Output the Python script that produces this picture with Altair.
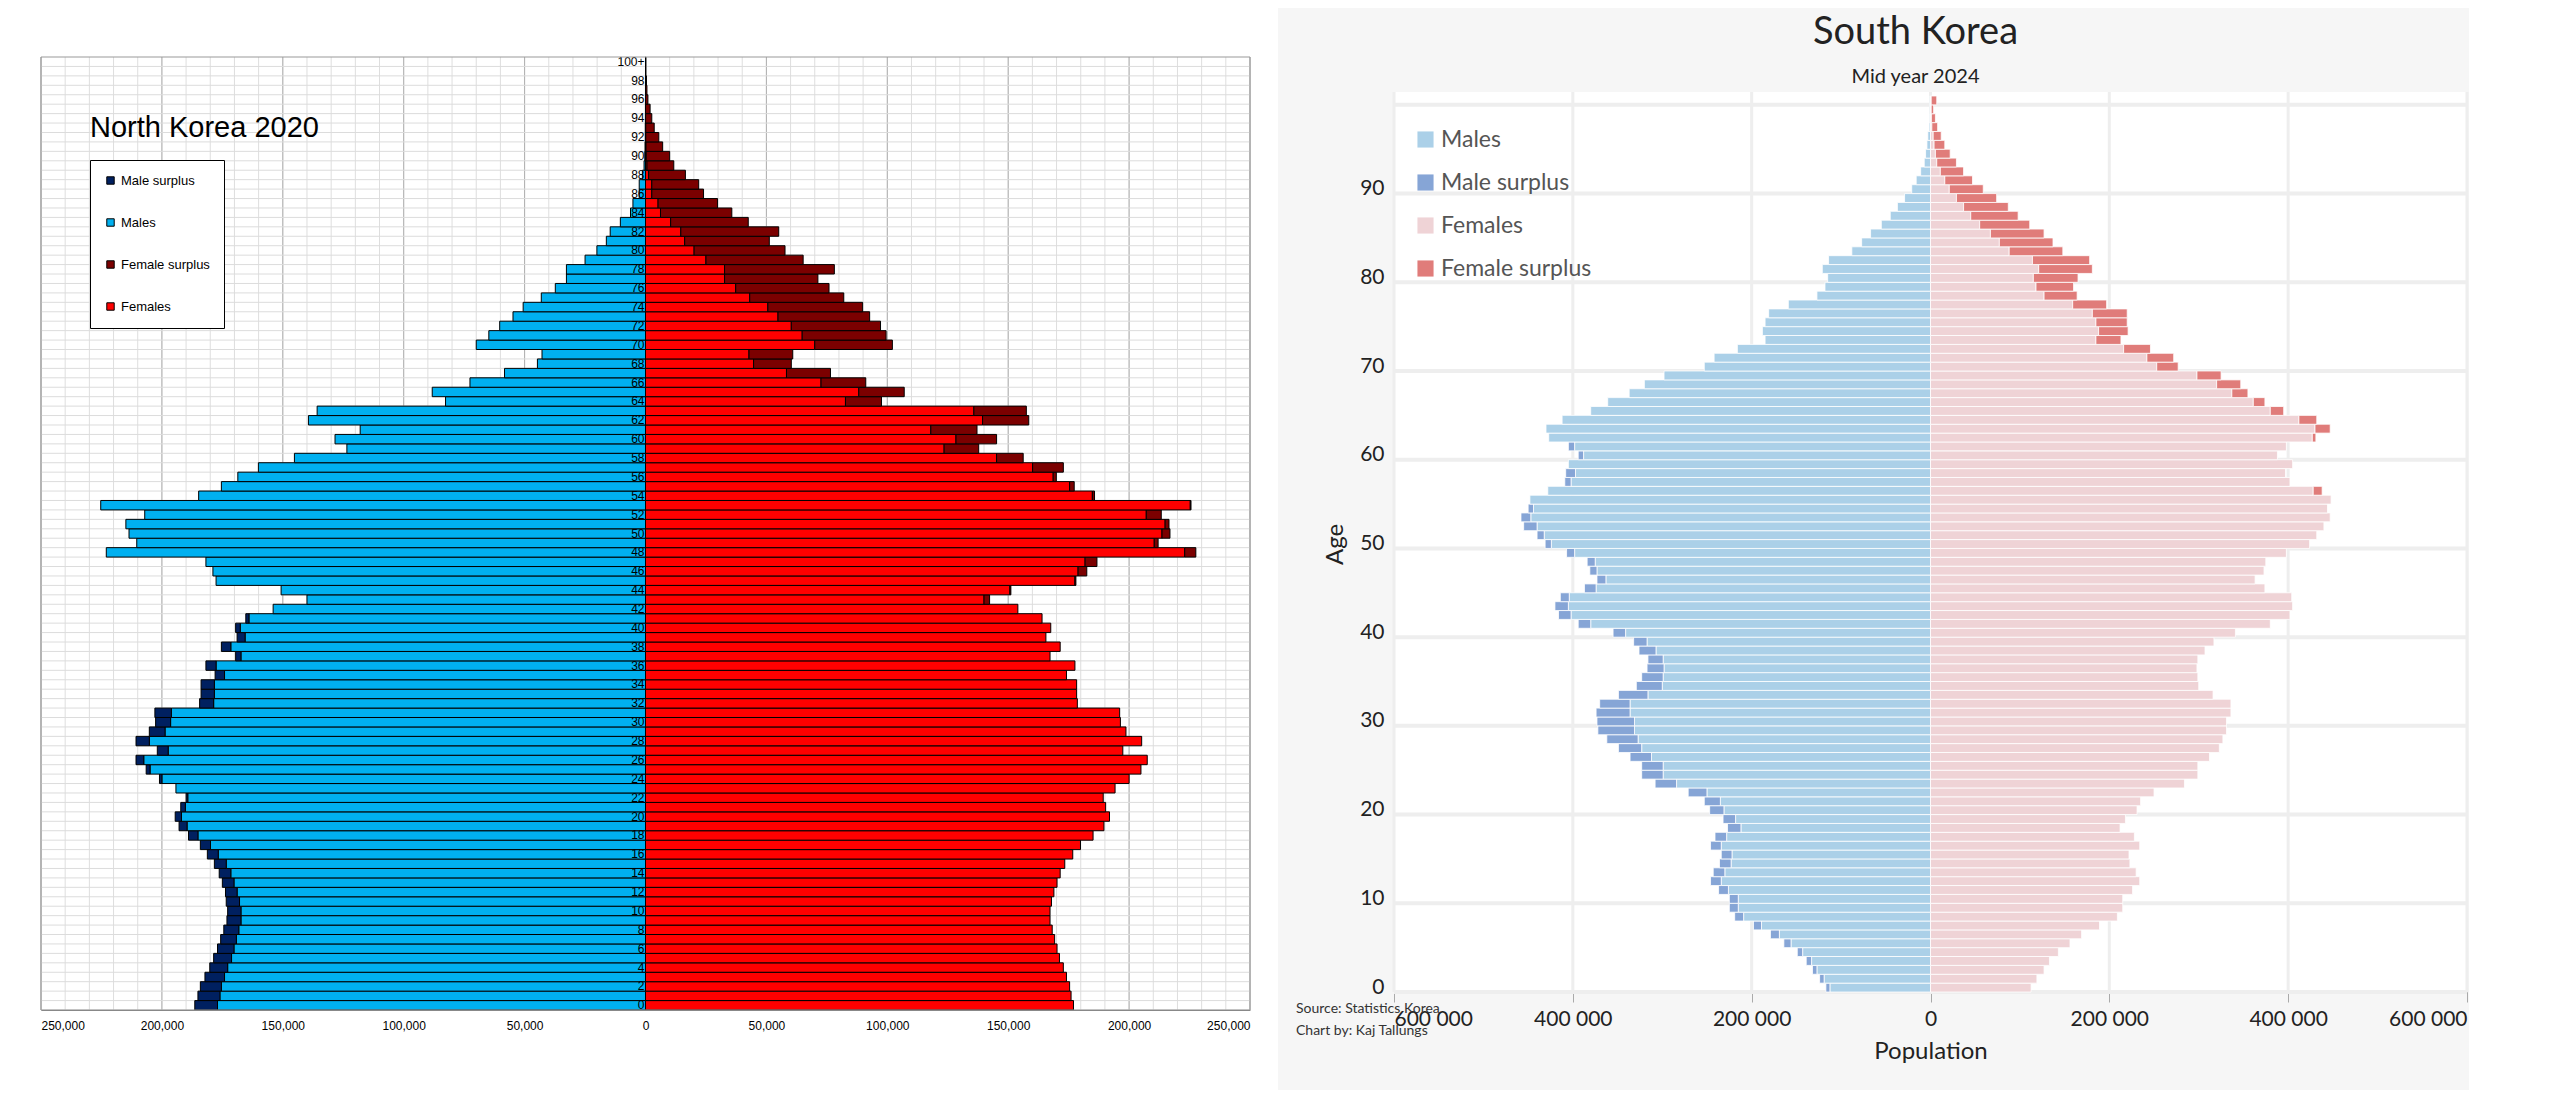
import altair as alt
import pandas as pd

# ---------------- data (thousands) ----------------
AGES = [str(i) for i in range(100)] + ["100+"]

NK_MALES = [186.4,185.1,184.1,182.2,180.2,178.6,177.0,175.7,174.4,173.1,
            172.8,173.4,173.7,175.0,176.3,178.3,181.2,184.1,189.0,192.9,
            194.5,192.2,190.0,194.2,201.0,206.5,210.7,201.9,210.7,205.2,
            202.6,202.9,184.4,183.8,183.8,178.0,181.8,169.5,175.4,168.9,
            169.5,165.3,154.0,140.0,150.7,177.6,178.9,181.8,223.0,210.4,
            213.6,214.9,207.1,225.3,184.8,175.4,168.6,160.1,145.2,123.5,
            128.4,118.0,139.4,135.8,82.7,88.2,72.6,58.3,44.7,42.8,
            70.0,64.8,60.3,54.8,50.6,43.1,37.3,32.7,32.7,25.0,
            20.1,16.2,14.6,10.4,6.2,5.2,2.6,2.6,1.3,0.6,
            0.3,0.2,0.1,0.1,0.05,0.03,0.02,0.01,0.01,0.0,0.0]
NK_FEMALES = [177.0,176.0,175.4,174.1,172.8,171.2,170.2,169.2,168.2,167.3,
              167.3,167.9,168.9,170.2,171.5,173.4,176.7,179.9,185.1,189.6,
              191.9,190.3,189.3,194.2,200.0,204.9,207.5,197.4,205.2,198.7,
              196.4,196.1,178.6,178.3,178.3,174.1,177.6,167.3,171.5,165.6,
              167.6,164.0,154.0,142.3,151.1,178.0,182.5,186.7,227.6,212.0,
              216.9,216.5,213.3,225.6,185.7,177.3,169.9,172.8,156.2,137.8,
              145.2,137.1,158.5,157.5,97.6,107.0,91.1,76.5,60.3,60.9,
              102.1,99.5,97.2,92.7,89.8,82.0,75.9,71.3,78.1,65.2,
              57.7,51.2,55.1,42.5,35.7,29.8,24.0,22.0,16.5,11.7,
              10.0,7.1,5.5,3.6,2.6,1.9,1.0,0.6,0.4,0.2,0.2]

SK_MALES = [117,124,132,139,149,164,179,198,219,225,
            225,237,246,243,236,234,246,241,227,232,
            247,253,271,308,323,323,336,349,362,372,
            373,374,370,349,329,323,317,316,326,332,
            355,394,416,420,414,387,373,381,384,407,
            431,440,455,458,450,448,428,409,408,405,
            394,405,427,430,412,380,361,337,320,298,
            253,242,216,185,188,185,181,159,127,118,
            115,121,114,88,77,67,55,45,37,29,
            21,16,11,7,5.5,4,3,1.5,1,0.8,0.8]
SK_FEMALES = [112.5,119,127,133,143,156,169,189,209,215,
              215,226,234,230,223,222,234,228,212,218,
              231,235,250,284,299,299,312,323,327,331,
              331,336,336,316,300,299,298,299,307,317,
              341,380,402,405,404,374,363,373,375,398,
              424,432,440,447,444,448,438,402,397,405,
              388,398,431,447,432,395,374,355,347,325,
              277,272,246,213,221,220,220,197,164,160,
              165,181,178,148,137,127,111,98,87,74,
              59,47,37,29,22,16,12,8,5.5,3.5,7]

NK_SEGS = ["Male surplus", "Males", "Female surplus", "Females"]
NK_COLORS = ["#002060", "#00b0f0", "#7b0000", "#ff0000"]
SK_SEGS = ["Males", "Male surplus", "Females", "Female surplus"]
SK_COLORS = ["#abd0e8", "#86a5d6", "#efd3d6", "#e07c7a"]

NK_TITLE = ["North Korea 2020"]
SK_TITLE = ["South Korea"]
SK_SUBTITLE = ["Mid year 2024"]
SOURCE = ["Source: Statistics Korea", "Chart by: Kaj Tallungs"]

NK_TICKS = list(range(-250000, 250001, 50000))
NK_MINOR = list(range(-250000, 250001, 10000))
SK_TICKS = list(range(-600000, 600001, 200000))
SK_AGE_LABELS = [str(i) for i in range(0, 100, 10)] + ["100+"]

SORT = list(reversed(AGES))


def segments(M, F):
    rows = []
    for lab, m, f in zip(AGES, M, F):
        m *= 1000
        f *= 1000
        lo = min(m, f)
        rows.append(dict(label=lab, seg="Males", x=-lo, x2=0))
        if m > f:
            rows.append(dict(label=lab, seg="Male surplus", x=-m, x2=-lo))
        rows.append(dict(label=lab, seg="Females", x=0, x2=lo))
        if f > m:
            rows.append(dict(label=lab, seg="Female surplus", x=lo, x2=f))
    return pd.DataFrame(rows)


# ---------------- North Korea ----------------
LW, LH = 1209, 953
nk = segments(NK_MALES, NK_FEMALES)
ly = alt.Y("label:O", sort=SORT, scale=alt.Scale(paddingInner=0, paddingOuter=0), axis=None)
lxs = alt.Scale(domain=[-250000, 250000], nice=False, zero=False)
LX_AXIS = alt.Axis(values=NK_TICKS, labelExpr="format(abs(datum.value), ',')", grid=False,
                   ticks=False, domainColor="#888", labelFont="Liberation Sans",
                   labelFontSize=12, labelColor="black", labelPadding=10, zindex=1, title=None)

one = pd.DataFrame({"t": NK_TITLE})
bg = alt.Chart(one).mark_rect(color="white").encode(
    x=alt.value(-33), x2=alt.value(LW + 28), y=alt.value(-49), y2=alt.value(LH + 80))
vminor = alt.Chart(pd.DataFrame({"v": NK_MINOR})).mark_rule(color="#dedede", strokeWidth=1).encode(
    x=alt.X("v:Q", scale=lxs, axis=LX_AXIS))
vmajor = alt.Chart(pd.DataFrame({"v": NK_TICKS})).mark_rule(color="#b0b0b0", strokeWidth=1).encode(
    x=alt.X("v:Q", scale=lxs, axis=LX_AXIS))
hgrid = alt.Chart(pd.DataFrame({"label": AGES})).mark_rule(
    color="#dcdcdc", strokeWidth=1, yOffset=LH / 101 / 2).encode(y=ly)
bars_nk = alt.Chart(nk).mark_bar(stroke="black", strokeWidth=1).encode(
    x=alt.X("x:Q", scale=lxs, axis=LX_AXIS),
    x2="x2:Q",
    y=ly,
    color=alt.Color("seg:N", scale=alt.Scale(domain=NK_SEGS, range=NK_COLORS),
                    legend=alt.Legend(title=None, orient="none", legendX=49, legendY=103,
                                      strokeColor="black", fillColor="white", padding=14,
                                      rowPadding=28, symbolType="square", symbolSize=55,
                                      symbolStrokeColor="black", symbolStrokeWidth=1,
                                      labelFont="Liberation Sans", labelFontSize=13,
                                      labelColor="black", labelLimit=250, zindex=1)),
)
even = pd.DataFrame({"label": [a for i, a in enumerate(AGES) if i % 2 == 0], "zero": 0})
agetext = alt.Chart(even).mark_text(align="right", dx=-1, baseline="middle", fontSize=12,
                                    font="Liberation Sans", color="black").encode(
    x=alt.X("zero:Q", scale=lxs, axis=LX_AXIS), y=ly, text="label:N")
title_nk = alt.Chart(one).mark_text(align="left", baseline="alphabetic", fontSize=29,
                                    font="Liberation Sans", color="black").encode(
    x=alt.value(49), y=alt.value(80), text="t:N")
border = alt.Chart(one).mark_rect(fillOpacity=0, stroke="#999", strokeWidth=1).encode(
    x=alt.value(0), x2=alt.value(LW), y=alt.value(0), y2=alt.value(LH))

left = alt.layer(bg, vminor, vmajor, hgrid, bars_nk, agetext, title_nk, border).properties(
    width=LW, height=LH)

# ---------------- South Korea ----------------
RW, RH, RTOP = 1073, 935, 39
sk = segments(SK_MALES, SK_FEMALES)
rxs = alt.Scale(domain=[-600000, 600000], nice=False, zero=False)
RX_AXIS = alt.Axis(values=SK_TICKS, labelExpr="replace(format(abs(datum.value), ','), ',', ' ')",
                   grid=False, ticks=True, tickSize=10, tickColor="#aaa", domainColor="#aaa",
                   domainWidth=2, labelFont="Lato", labelFontSize=21, labelColor="#222",
                   labelPadding=6, titleFont="Lato", titleFontSize=24, titleFontWeight="normal",
                   titleColor="#222", titlePadding=10, title="Population")
ry = alt.Y("label:O", sort=SORT,
           scale=alt.Scale(paddingInner=0, paddingOuter=0, range=[RTOP, RH]),
           title="Age",
           axis=alt.Axis(values=SK_AGE_LABELS, grid=False, ticks=False, domain=False,
                         labelFont="Lato", labelFontSize=21, labelColor="#222", labelPadding=10,
                         titleFont="Lato", titleFontSize=24, titleFontWeight="normal",
                         titleColor="#222", titlePadding=12))

sone = pd.DataFrame({"t": SK_TITLE, "s": SK_SUBTITLE})
rbg = alt.Chart(sone).mark_rect(color="white").encode(
    x=alt.value(0), x2=alt.value(RW), y=alt.value(RTOP - 4), y2=alt.value(RH))
rvgrid = alt.Chart(pd.DataFrame({"v": SK_TICKS})).mark_rule(color="#eeeeee", strokeWidth=3).encode(
    x=alt.X("v:Q", scale=rxs, axis=RX_AXIS), y=alt.value(RTOP - 4), y2=alt.value(RH))
rhgrid = alt.Chart(pd.DataFrame({"label": SK_AGE_LABELS})).mark_rule(
    color="#eeeeee", strokeWidth=4, yOffset=(RH - RTOP) / 101 / 2).encode(y=ry)
bars_sk = alt.Chart(sk).mark_bar(stroke="white", strokeWidth=0.8).encode(
    x=alt.X("x:Q", scale=rxs, axis=RX_AXIS),
    x2="x2:Q",
    y=ry,
    color=alt.Color("seg:N", scale=alt.Scale(domain=SK_SEGS, range=SK_COLORS),
                    legend=alt.Legend(title=None, orient="none", legendX=20, legendY=71,
                                      symbolType="square", symbolSize=260, symbolStrokeWidth=0,
                                      rowPadding=19, labelFont="Lato", labelFontSize=23,
                                      labelColor="#555", labelLimit=300)),
)
title_sk = alt.Chart(sone).mark_text(align="center", baseline="middle", fontSize=38, font="Lato",
                                     color="#222").encode(
    x=alt.value(RW / 2 - 15), y=alt.value(-24), text="t:N")
subtitle_sk = alt.Chart(sone).mark_text(align="center", baseline="middle", fontSize=20, font="Lato",
                                        color="#222").encode(
    x=alt.value(RW / 2 - 15), y=alt.value(20), text="s:N")
src = alt.Chart(pd.DataFrame({"t": ["\n".join(SOURCE)]})).mark_text(
    align="left", baseline="middle", fontSize=14, font="Lato", color="#333",
    lineBreak="\n", lineHeight=22).encode(
    x=alt.value(-98), y=alt.value(1009 - 57), text="t:N")

right = alt.layer(rbg, rvgrid, rhgrid, bars_sk, title_sk, subtitle_sk, src).properties(
    width=RW, height=RH)

chart = alt.hconcat(left, right, spacing=18).resolve_scale(
    color="independent", x="independent", y="independent").resolve_legend(
    color="independent").properties(background="#f6f6f6", padding=0).configure_view(stroke=None)

chart.save("out.html", embed_options={"renderer": "svg", "actions": False})
